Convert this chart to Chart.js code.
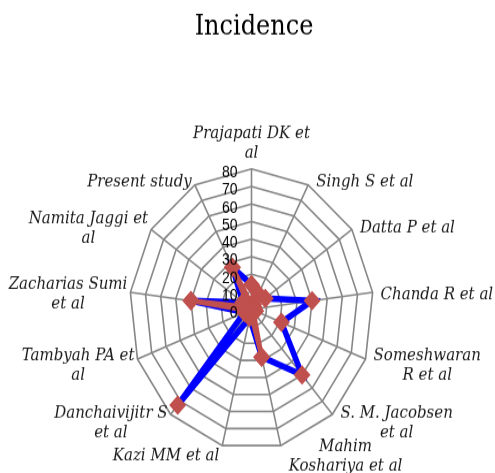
<!DOCTYPE html>
<html>
<head>
<meta charset="utf-8">
<title>Incidence</title>
<script src="https://cdn.jsdelivr.net/npm/chart.js@4/dist/chart.umd.min.js"></script>
<style>
  body { margin: 0; background: #fff; }
  #chart { display: block; width: 495px; height: 473px; }
</style>
</head>
<body>
<canvas id="chart" width="495" height="411" style="width:495px;height:473px"></canvas>
<script>
// categories, wrapped the way the original prints them
const categories = [
  ['Prajapati DK et', 'al'],
  ['Singh S et al'],
  ['Datta P et al'],
  ['Chanda R et al'],
  ['Someshwaran', 'R et al'],
  ['S. M. Jacobsen', 'et al'],
  ['Mahim', 'Koshariya et al'],
  ['Kazi MM et al'],
  ['Danchaivijitr S', 'et al'],
  ['Tambyah PA et', 'al'],
  ['Zacharias Sumi', 'et al'],
  ['Namita Jaggi et', 'al'],
  ['Present study']
]
const blueValues = [14, 10, 11, 40, 21, 50, 28, 5, 73, 5, 40, 7, 27]
const redValues = [3, 3, 2, 2, 3, 2, 28, 2, 3, 2, 40, 2, 27]
const tickValues = [0, 10, 20, 30, 40, 50, 60, 70, 80]

const markerRed = '#C0504D'
const gridGray = '#868686'

// the original picture is stretched vertically, so the canvas is drawn
// shorter and scaled up by css; fix the radar geometry here
const geometry = {
  id: 'geometry',
  afterLayout(chart) {
    const s = chart.scales.r
    s.xCenter = 251.5
    s.yCenter = 268.7
    s.drawingArea = 122
  }
}

const axisText = {
  id: 'axisText',
  afterDraw(chart) {
    const s = chart.scales.r
    const ctx = chart.ctx
    ctx.save()

    // value labels left of the vertical axis
    ctx.font = '14px "Liberation Sans"'
    ctx.fillStyle = '#000'
    ctx.textAlign = 'right'
    ctx.textBaseline = 'middle'
    tickValues.forEach(v => {
      const p = s.getPointPositionForValue(0, v)
      ctx.fillText(String(v), s.xCenter - 14, p.y + 3.5)
    })

    // category labels
    ctx.font = 'italic 15px "DejaVu Serif"'
    ctx.fillStyle = '#1a1a1a'
    ctx.textAlign = 'center'
    const lineH = 17
    categories.forEach((lines, i) => {
      const a = s.getIndexAngle(i)
      const sin = Math.sin(a), cos = Math.cos(a)
      const p = s.getPointPosition(i, s.drawingArea)
      const w = Math.max(...lines.map(t => ctx.measureText(t).width))
      const h = lines.length * lineH
      let cx, cy
      if (Math.abs(sin) < 0.01) {
        cx = p.x
        cy = p.y - 5 - h / 2
      } else if (sin > 0) {
        cx = p.x + 8 + w / 2
        cy = p.y + 2.9 - 6.6 * cos
      } else {
        cx = p.x - 3 - w / 2
        cy = p.y + 2.9 - 6.6 * cos
      }
      lines.forEach((t, k) => {
        ctx.fillText(t, cx, cy - h / 2 + lineH * (k + 0.5))
      })
    })
    ctx.restore()
  }
}

const ctx = document.getElementById('chart').getContext('2d')
new Chart(ctx, {
  type: 'radar',
  data: {
    labels: categories,
    datasets: [
      {
        label: 'Series 2',
        data: redValues,
        borderColor: markerRed,
        borderWidth: 4.5,
        pointStyle: 'rectRot',
        pointRadius: 8.5,
        pointBackgroundColor: markerRed,
        pointBorderColor: markerRed,
        pointBorderWidth: 0,
        fill: false
      },
      {
        label: 'Series 1',
        data: blueValues,
        borderColor: '#0000FF',
        borderWidth: 5.5,
        pointStyle: 'rectRot',
        pointRadius: 8.5,
        pointBackgroundColor: markerRed,
        pointBorderColor: markerRed,
        pointBorderWidth: 0,
        fill: false
      }
    ]
  },
  options: {
    responsive: false,
    animation: false,
    devicePixelRatio: 1,
    layout: { padding: { left: 13 } },
    elements: { line: { tension: 0 } },
    plugins: {
      legend: { display: false },
      tooltip: { enabled: false },
      title: {
        display: true,
        text: 'Incidence',
        color: '#000',
        font: { family: '"DejaVu Serif"', size: 24, weight: 'normal' },
        padding: { top: 9, bottom: 0 }
      }
    },
    scales: {
      r: {
        min: 0,
        max: 80,
        ticks: { stepSize: 10, display: false },
        grid: { color: gridGray, lineWidth: 1.6 },
        angleLines: { color: gridGray, lineWidth: 1.6 },
        pointLabels: { display: false }
      }
    }
  },
  plugins: [geometry, axisText]
})
</script>
</body>
</html>
